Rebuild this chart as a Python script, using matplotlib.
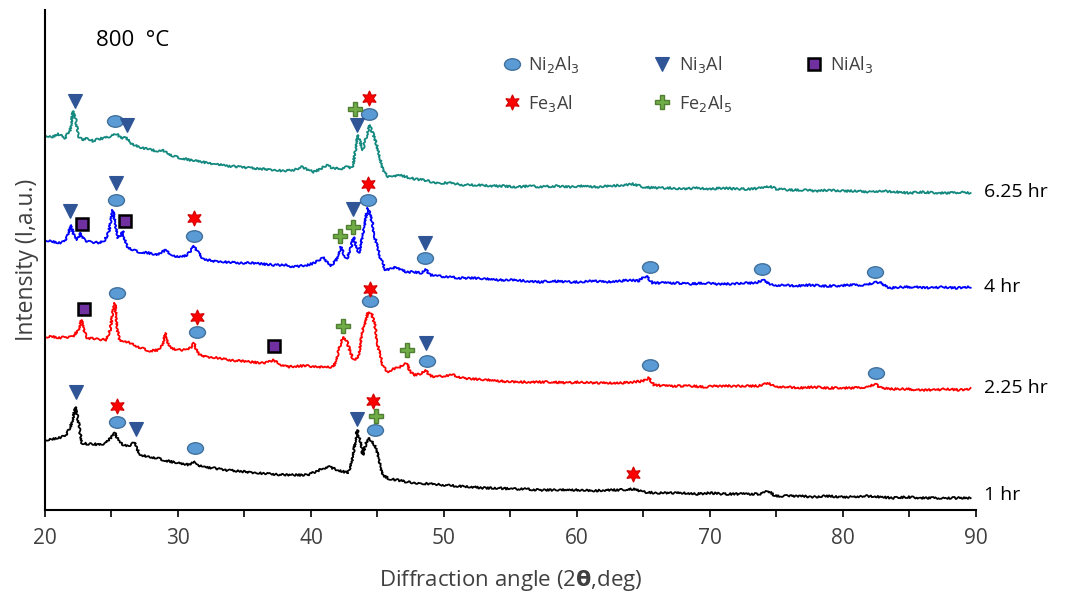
import numpy as np
import matplotlib
matplotlib.use("Agg")
import matplotlib.pyplot as plt
from matplotlib.path import Path
from matplotlib.lines import Line2D

plt.rcParams['font.family'] = ['Open Sans', 'DejaVu Sans']

# ---- XRD patterns (2theta, stacked intensity, a.u.) ----
x_625 = [20.0, 20.5, 21.0, 21.5, 21.9, 22.1, 22.3, 22.5, 22.8, 23.2, 23.6, 24.0, 24.5, 25.0,
         25.4, 25.8, 26.1, 26.4, 27.1, 27.7, 28.4, 28.8, 29.6, 30.2, 30.9, 31.5, 32.2, 33.0,
         33.8, 34.7, 35.5, 36.4, 37.2, 38.0, 38.7, 39.3, 39.8, 40.2, 40.7, 41.2, 41.6, 42.2,
         42.7, 43.1, 43.3, 43.5, 43.7, 43.9, 44.1, 44.4, 44.7, 44.9, 45.2, 45.4, 45.8, 46.2,
         46.7, 47.2, 47.8, 48.5, 49.1, 49.7, 50.5, 51.5, 52.5, 53.5, 54.5, 55.5, 56.5, 57.2,
         58.5, 59.5, 60.5, 61.5, 62.5, 63.5, 64.2, 65.0, 66.0, 67.0, 68.0, 69.0, 70.0, 71.0,
         72.0, 73.0, 74.0, 74.5, 75.0, 76.0, 77.0, 78.0, 79.0, 80.0, 81.0, 82.0, 83.0, 84.0,
         85.0, 86.0, 87.0, 88.0, 89.0, 89.6]
y_625 = [375, 373, 376, 372, 380, 399, 392, 374, 370, 372, 369, 371, 372, 374,
         376, 371, 373, 367, 363, 361, 359, 360, 354, 352, 350, 349, 347, 346,
         344, 343, 342, 341, 340, 339, 340, 343, 340, 338, 341, 345, 342, 341,
         343, 342, 355, 375, 368, 360, 370, 385, 375, 367, 352, 340, 333, 334,
         335, 333, 331, 330, 328, 327, 327, 325, 325, 324, 324, 323, 324, 323,
         324, 323, 324, 323, 324, 325, 326, 323, 322, 322, 321, 322, 321, 322,
         321, 321, 322, 324, 321, 320, 320, 319, 320, 319, 319, 318, 319, 318,
         317, 318, 317, 317, 318, 317]

x_4 = [20.0, 20.5, 21.0, 21.4, 21.7, 21.95, 22.2, 22.4, 22.7, 23.0, 23.5, 24.1, 24.5, 24.8,
       25.1, 25.3, 25.5, 25.7, 25.85, 26.0, 26.2, 26.6, 27.1, 27.8, 28.4, 28.8, 29.1, 29.5,
       30.1, 30.7, 31.0, 31.2, 31.5, 31.9, 32.6, 33.5, 34.6, 35.5, 36.4, 37.2, 38.0, 38.7,
       39.2, 39.7, 40.3, 40.9, 41.2, 41.5, 41.9, 42.25, 42.5, 42.7, 43.0, 43.2, 43.4, 43.6,
       43.9, 44.1, 44.3, 44.6, 44.8, 45.2, 45.6, 46.0, 46.4, 46.8, 47.2, 47.8, 48.3, 48.6,
       48.95, 49.5, 50.3, 51.2, 52.2, 53.2, 54.2, 55.2, 56.2, 57.2, 58.2, 59.2, 60.2, 61.2,
       62.2, 63.2, 64.0, 64.6, 65.2, 65.7, 66.5, 67.5, 68.5, 69.5, 70.5, 71.5, 72.5, 73.4,
       74.0, 74.8, 75.5, 76.5, 77.5, 78.5, 79.5, 80.5, 81.5, 82.3, 82.7, 83.5, 84.5, 85.5,
       86.5, 87.5, 88.5, 89.6]
y_4 = [270, 269, 267, 268, 274, 285, 274, 270, 277, 269, 268, 267, 270, 278,
       300, 285, 272, 274, 279, 270, 263, 260, 258, 257, 255, 258, 260, 255,
       253, 255, 260, 264, 258, 251, 249, 248, 247, 247, 246, 245, 245, 243,
       244, 245, 247, 253, 248, 244, 250, 263, 255, 251, 262, 273, 264, 257,
       274, 292, 302, 288, 273, 253, 240, 241, 243, 240, 238, 238, 237, 241,
       235, 234, 233, 232, 232, 231, 230, 230, 229, 228, 229, 228, 228, 229,
       228, 229, 230, 229, 234, 227, 227, 227, 226, 227, 226, 226, 227, 227,
       230, 224, 225, 224, 225, 224, 224, 225, 225, 227, 228, 222, 223, 223,
       222, 223, 222, 223]

x_225 = [20.0, 20.5, 21.0, 21.5, 22.1, 22.5, 22.75, 23.0, 23.2, 23.8, 24.6, 24.9, 25.1, 25.26,
         25.45, 25.6, 26.0, 26.4, 27.0, 27.9, 28.5, 28.85, 29.07, 29.3, 29.5, 30.0, 30.65, 31.0,
         31.2, 31.4, 31.65, 32.2, 33.0, 33.8, 34.7, 35.5, 36.3, 36.8, 37.17, 37.6, 38.2, 39.0,
         39.8, 40.6, 41.2, 41.7, 42.0, 42.36, 42.7, 42.95, 43.2, 43.55, 43.9, 44.3, 44.55, 44.8,
         45.05, 45.4, 45.7, 46.2, 46.7, 47.0, 47.2, 47.4, 47.7, 48.2, 48.6, 48.9, 49.2, 50.0,
         50.7, 51.4, 52.2, 53.2, 54.2, 55.2, 56.2, 57.2, 58.2, 59.2, 60.2, 61.2, 62.2, 63.2,
         64.3, 65.0, 65.4, 65.8, 66.6, 67.6, 68.6, 69.6, 70.6, 71.6, 72.6, 73.6, 74.4, 74.9,
         75.8, 76.8, 77.8, 78.8, 79.8, 80.8, 81.8, 82.4, 82.9, 83.8, 84.8, 85.8, 86.8, 87.8,
         88.8, 89.6]
y_225 = [173, 174, 172, 173, 173, 180, 190, 177, 172, 171, 170, 180, 198, 207,
         180, 170, 169, 167, 163, 159, 160, 165, 177, 165, 162, 160, 160, 163,
         167, 160, 155, 153, 152, 150, 149, 148, 147, 148, 150, 146, 143, 144,
         144, 143, 143, 143, 155, 173, 169, 158, 150, 153, 180, 198, 197, 185,
         163, 145, 138, 141, 143, 146, 147, 140, 135, 136, 140, 135, 133, 134,
         135, 132, 131, 130, 129, 128, 128, 128, 128, 127, 128, 127, 127, 127,
         128, 129, 132, 125, 124, 124, 124, 123, 124, 124, 124, 124, 127, 123,
         123, 122, 123, 122, 122, 122, 123, 126, 122, 121, 121, 120, 120, 121,
         120, 121]

x_1 = [20.0, 20.5, 21.0, 21.5, 21.9, 22.1, 22.3, 22.5, 22.75, 23.2, 23.7, 24.1, 24.6, 25.0,
       25.26, 25.5, 25.9, 26.3, 26.6, 26.7, 26.95, 27.2, 27.8, 28.4, 29.2, 30.0, 30.9, 31.2,
       31.5, 32.0, 32.65, 33.5, 34.5, 35.9, 37.0, 38.0, 38.8, 39.7, 40.5, 41.0, 41.4, 42.0,
       42.8, 43.1, 43.48, 43.7, 43.9, 44.1, 44.3, 44.6, 44.9, 45.1, 45.4, 45.9, 46.5, 47.2,
       48.0, 49.0, 50.0, 50.9, 52.0, 53.0, 54.0, 55.0, 56.0, 57.2, 58.2, 59.2, 60.2, 61.2,
       62.2, 63.2, 64.2, 65.0, 66.0, 67.0, 68.0, 69.0, 70.0, 71.0, 72.0, 73.0, 73.8, 74.4,
       74.9, 75.8, 76.8, 77.8, 78.8, 79.8, 80.8, 81.8, 82.8, 83.8, 84.8, 85.8, 86.8, 87.8,
       88.8, 89.6]
y_1 = [70, 71, 72, 74, 82, 92, 103, 90, 67, 66, 66, 65, 67, 73,
       77, 70, 65, 64, 67, 68, 60, 55, 53, 52, 49, 47, 45, 49,
       45, 43, 42, 40, 39, 37, 36, 35, 35, 35, 39, 42, 43, 40,
       37, 50, 80, 70, 55, 65, 72, 69, 62, 50, 35, 31, 30, 28,
       27, 26, 25, 24, 23, 22, 22, 21, 21, 20, 20, 20, 20, 19,
       20, 20, 21, 18, 17, 17, 17, 16, 17, 16, 16, 16, 16, 19,
       14, 14, 14, 13, 14, 13, 13, 14, 13, 12, 13, 12, 12, 12,
       12, 12]

series_labels = ["6.25 hr", "4 hr", "2.25 hr", "1 hr"]
series_colors = ["#13897f", "#0000ff", "#ff0000", "#000000"]
label_y = [318, 223, 122, 15]

# ---- phase markers (2theta, stacked intensity) ----
ni2al3_x = [25.3, 44.4, 25.34, 31.23, 44.26, 48.6, 65.5, 73.9, 82.4, 25.4, 31.4, 44.44, 48.7,
            65.5, 82.5, 25.39, 31.3, 44.8]
ni2al3_y = [389, 396, 310, 274, 310, 252, 243, 241, 238, 217, 178, 209, 149,
            145, 137, 88, 62, 80]
ni3al_x = [22.26, 26.17, 43.46, 21.88, 25.34, 43.16, 48.57, 48.65, 22.33, 26.84, 43.46]
ni3al_y = [409, 385, 385, 299, 327, 301, 267, 167, 118, 81, 91]
nial3_x = [22.78, 26.02, 22.95, 37.24]
nial3_y = [286, 289, 201, 164]
fe3al_x = [44.38, 31.23, 44.26, 31.4, 44.44, 25.39, 44.68, 64.19]
fe3al_y = [412, 292, 326, 193, 221, 104, 109, 36]
fe2al5_x = [43.31, 42.18, 43.18, 42.43, 47.19, 44.86]
fe2al5_y = [401, 274, 283, 184, 160, 94]

circle = Path.unit_circle()
ellipse = Path(circle.vertices * np.array([1.0, 0.72]), circle.codes)

phases = [
    ("Ni$_2$Al$_3$", ni2al3_x, ni2al3_y, dict(marker=ellipse, ms=11.5, mfc="#5b9bd5", mec="#41719c", mew=1.0)),
    ("Fe$_3$Al", fe3al_x, fe3al_y, dict(marker=(6, 1, 0), ms=11, mfc="#ff0000", mec="#d00000", mew=0.8)),
    ("Ni$_3$Al", ni3al_x, ni3al_y, dict(marker="v", ms=10, mfc="#2f5597", mec="#2f5597", mew=0.8)),
    ("Fe$_2$Al$_5$", fe2al5_x, fe2al5_y, dict(marker="P", ms=10.5, mfc="#70ad47", mec="#507e32", mew=1.0)),
    ("NiAl$_3$", nial3_x, nial3_y, dict(marker="s", ms=8.5, mfc="#7030a0", mec="#000000", mew=1.8)),
]

fig = plt.figure(figsize=(10.68, 5.99), dpi=100)
ax = fig.add_axes([0.0421, 0.1486, 0.8717, 0.8347])

for xs, ys, c in zip([x_625, x_4, x_225, x_1], [y_625, y_4, y_225, y_1], series_colors):
    ln, = ax.plot(xs, ys, color=c, lw=1.3)
    ln.set_sketch_params(scale=1.0, length=2.5, randomness=4)

handles = []
for name, xs, ys, st in phases:
    ax.plot(xs, ys, ls="none", zorder=5, **st)
    handles.append(Line2D([], [], ls="none", label=name, **st))

for lab, yy in zip(series_labels, label_y):
    ax.text(90.6, yy, lab, fontsize=14, color="black", va="center", ha="left", clip_on=False)

ax.text(23.8, 470, "800  °C", fontsize=16, color="black", va="center", ha="left")

leg = ax.legend(handles=handles, loc="upper left", bbox_to_anchor=(0.4726, 0.944), ncol=3,
                frameon=False, fontsize=13, labelcolor="#404040", handletextpad=0.3,
                columnspacing=3.95, labelspacing=0.96, handlelength=1.2)

ax.set_xlim(20, 90)
ax.set_ylim(0, 500)
ax.set_xticks(range(20, 91, 10))
ax.set_xticks(range(25, 90, 10), minor=True)
ax.set_yticks([])
ax.tick_params(axis="x", which="both", direction="out", length=5, width=1.2,
               color="black", labelsize=15, labelcolor="#404040", pad=8)
for s in ["top", "right"]:
    ax.spines[s].set_visible(False)
for s in ["left", "bottom"]:
    ax.spines[s].set_linewidth(1.5)
    ax.spines[s].set_color("black")

ax.set_xlabel("Diffraction angle (2$\\mathbf{\\theta}$,deg)", fontsize=16, color="#404040", labelpad=14)
ax.set_ylabel("Intensity (I,a.u.)", fontsize=16.5, color="#404040", labelpad=4)

fig.savefig("out.png", dpi=100)
